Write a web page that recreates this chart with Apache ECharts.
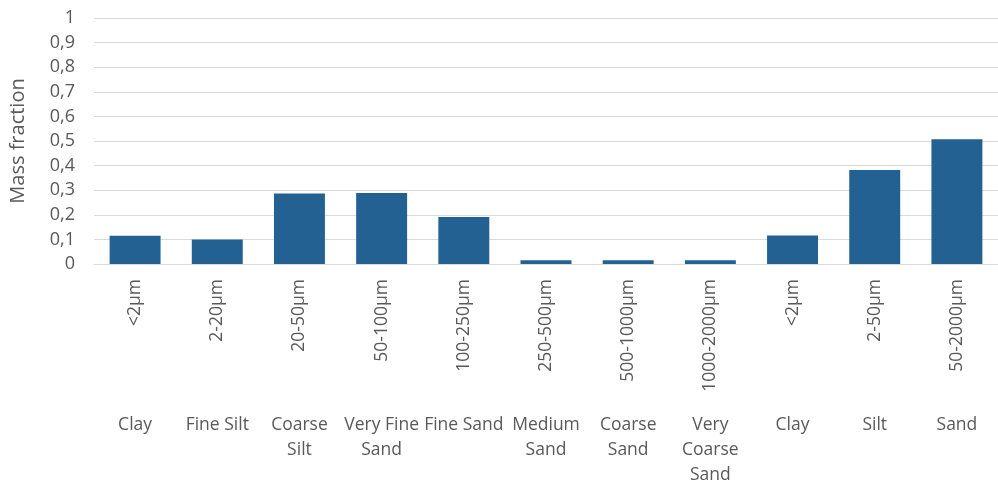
<!DOCTYPE html>
<html>
<head>
<meta charset="utf-8">
<script src="https://cdn.jsdelivr.net/npm/echarts@6/dist/echarts.min.js"></script>
<style>
  html, body { margin: 0; padding: 0; background: #fff; }
  #chart { width: 998px; height: 481px; }
</style>
</head>
<body>
<div id="chart"></div>
<script>
// Particle size ranges (rotated labels) and their texture classes
const sizeRanges = ['<2µm', '2-20µm', '20-50µm', '50-100µm', '100-250µm', '250-500µm',
  '500-1000µm', '1000-2000µm', '<2µm', '2-50µm', '50-2000µm'];
const classNames = ['Clay', 'Fine Silt', 'Coarse\nSilt', 'Very Fine\nSand', 'Fine Sand', 'Medium\nSand',
  'Coarse\nSand', 'Very\nCoarse\nSand', 'Clay', 'Silt', 'Sand'];
const massFraction = [0.115, 0.10, 0.287, 0.289, 0.191, 0.015, 0.015, 0.015, 0.116, 0.382, 0.507];
const yTicks = { min: 0, max: 1, step: 0.1 };

const textColor = '#595959';
const fontFamily = '"Open Sans", sans-serif';

const chart = echarts.init(document.getElementById('chart'));
chart.setOption({
  animation: false,
  grid: { left: 94, right: 0, top: 18, bottom: 217, containLabel: false, outerBoundsMode: 'none' },
  xAxis: [
    {
      type: 'category',
      data: sizeRanges,
      axisLine: { show: true, lineStyle: { color: '#d9d9d9', width: 1 } },
      axisTick: { show: false },
      axisLabel: {
        rotate: 90, margin: 15, interval: 0,
        color: textColor, fontFamily, fontSize: 17.5
      }
    },
    {
      type: 'category',
      data: classNames,
      position: 'bottom',
      offset: 141,
      axisLine: { show: false },
      axisTick: { show: false },
      axisLabel: {
        interval: 0, margin: 8, lineHeight: 25, verticalAlign: 'top',
        color: textColor, fontFamily, fontSize: 17.5
      }
    }
  ],
  yAxis: {
    type: 'value',
    min: yTicks.min, max: yTicks.max, interval: yTicks.step,
    name: 'Mass fraction',
    nameLocation: 'middle',
    nameGap: 66,
    nameRotate: 90,
    nameTextStyle: { color: textColor, fontFamily, fontSize: 20 },
    axisLine: { show: false },
    axisTick: { show: false },
    splitLine: { lineStyle: { color: '#d9d9d9', width: 1 } },
    axisLabel: {
      margin: 19, color: textColor, fontFamily, fontSize: 18,
      formatter: v => String(Math.round(v * 10) / 10).replace('.', ',')
    }
  },
  series: [{
    type: 'bar',
    data: massFraction,
    xAxisIndex: 0,
    barWidth: '62%',
    itemStyle: { color: '#236192' }
  }]
});
</script>
</body>
</html>
